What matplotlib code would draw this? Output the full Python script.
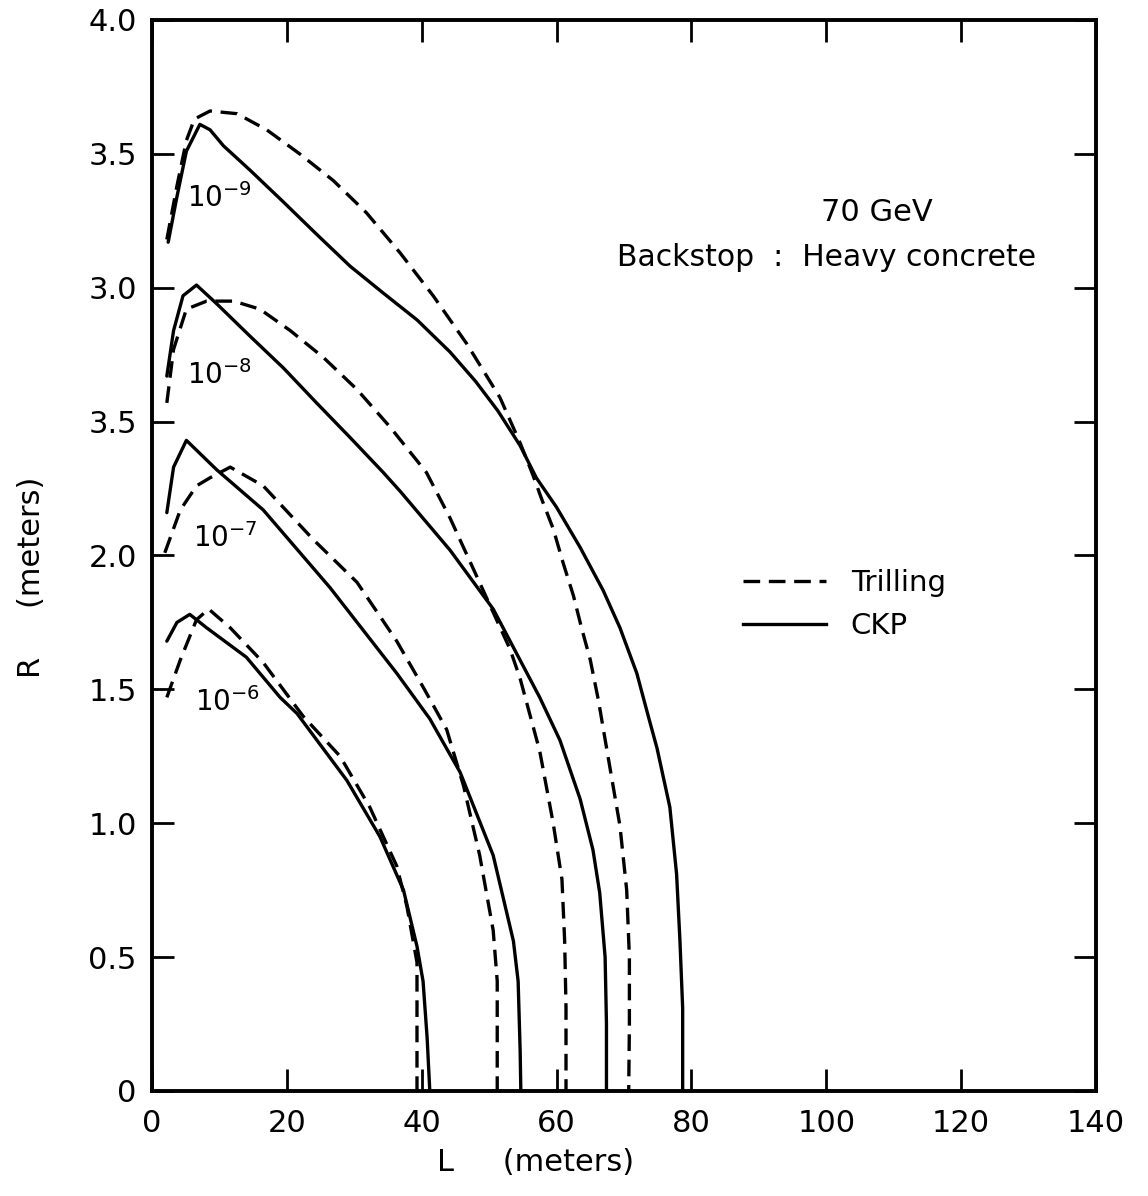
import matplotlib
matplotlib.use("Agg")
import matplotlib.pyplot as plt
from matplotlib.lines import Line2D

# ---- data (L in meters, R in meters) ----
ckp_9_L = [2.4, 3.7, 5.1, 7.1, 8.6, 10.6, 14.5, 19.5, 24.4, 29.4, 34.3, 39.3, 44.2, 48.0, 51.3, 54.6, 57.0, 60.0, 63.5, 66.9, 69.4, 71.9, 73.6, 74.9, 76.8, 77.8, 78.3, 78.7, 78.7]
ckp_9_R = [3.17, 3.34, 3.51, 3.61, 3.59, 3.53, 3.44, 3.32, 3.20, 3.08, 2.98, 2.88, 2.76, 2.65, 2.54, 2.41, 2.29, 2.18, 2.03, 1.87, 1.73, 1.56, 1.40, 1.28, 1.06, 0.81, 0.56, 0.31, 0.0]

tri_9_L = [2.2, 3.7, 5.1, 6.3, 8.6, 12.6, 17.0, 21.9, 26.9, 31.8, 36.8, 41.7, 46.7, 51.6, 54.6, 56.5, 57.8, 59.5, 61.0, 62.5, 63.7, 65.0, 66.2, 67.9, 69.4, 70.4, 70.8, 70.8, 70.7]
tri_9_R = [3.18, 3.38, 3.55, 3.63, 3.66, 3.65, 3.59, 3.50, 3.40, 3.28, 3.13, 2.97, 2.79, 2.59, 2.42, 2.30, 2.21, 2.10, 1.97, 1.85, 1.73, 1.61, 1.46, 1.21, 0.99, 0.75, 0.50, 0.25, 0.0]

ckp_8_L = [2.2, 3.2, 4.6, 6.6, 9.6, 14.5, 19.5, 24.4, 29.4, 34.3, 36.8, 44.2, 50.6, 57.5, 60.5, 63.5, 65.4, 66.4, 67.2, 67.4, 67.4]
ckp_8_R = [2.67, 2.84, 2.97, 3.01, 2.94, 2.82, 2.70, 2.57, 2.44, 2.31, 2.24, 2.02, 1.80, 1.47, 1.31, 1.09, 0.90, 0.74, 0.50, 0.25, 0.0]

tri_8_L = [2.2, 3.2, 5.1, 8.1, 12.1, 16.0, 20.5, 25.4, 30.4, 35.3, 40.7, 44.2, 48.2, 53.1, 54.6, 57.5, 59.5, 60.8, 61.2, 61.4, 61.4]
tri_8_R = [2.57, 2.77, 2.92, 2.95, 2.95, 2.92, 2.84, 2.74, 2.62, 2.48, 2.31, 2.14, 1.92, 1.65, 1.54, 1.27, 1.00, 0.79, 0.56, 0.31, 0.0]

ckp_7_L = [2.2, 3.2, 5.1, 9.6, 16.5, 26.4, 36.3, 41.2, 45.7, 50.6, 53.6, 54.3, 54.6, 54.7]
ckp_7_R = [2.16, 2.33, 2.43, 2.32, 2.17, 1.88, 1.56, 1.39, 1.19, 0.88, 0.56, 0.41, 0.15, 0.0]

tri_7_L = [1.9, 4.2, 6.6, 8.6, 11.6, 16.5, 23.9, 30.4, 36.3, 40.4, 43.7, 46.2, 48.6, 50.6, 51.2, 51.2, 51.2]
tri_7_R = [2.01, 2.17, 2.26, 2.29, 2.33, 2.26, 2.06, 1.90, 1.68, 1.50, 1.35, 1.14, 0.88, 0.60, 0.41, 0.20, 0.0]

ckp_6_L = [2.2, 3.7, 5.6, 8.1, 14.0, 19.0, 21.5, 28.9, 33.8, 37.3, 39.3, 40.2, 40.8, 41.2]
ckp_6_R = [1.68, 1.75, 1.78, 1.73, 1.62, 1.47, 1.41, 1.16, 0.95, 0.75, 0.54, 0.41, 0.20, 0.0]

tri_6_L = [2.2, 4.2, 6.6, 8.4, 11.6, 16.5, 22.4, 27.9, 32.3, 36.3, 37.8, 39.3, 39.3, 39.3]
tri_6_R = [1.47, 1.61, 1.76, 1.80, 1.73, 1.60, 1.40, 1.25, 1.06, 0.84, 0.69, 0.48, 0.25, 0.0]

curve_labels = ["10^{-9}", "10^{-8}", "10^{-7}", "10^{-6}"]
label_L = [5.2, 5.2, 6.1, 6.4]
label_R = [3.30, 2.64, 2.03, 1.42]

x_ticks = [0, 20, 40, 60, 80, 100, 120, 140]
x_ticklabels = ["0", "20", "40", "60", "80", "100", "120", "140"]
y_ticks = [0, 0.5, 1.0, 1.5, 2.0, 2.5, 3.0, 3.5, 4.0]
y_ticklabels = ["0", "0.5", "1.0", "1.5", "2.0", "3.5", "3.0", "3.5", "4.0"]

# ---- figure ----
plt.rcParams['font.family'] = ['DejaVu Sans']
plt.rcParams['mathtext.fontset'] = 'dejavusans'

fig = plt.figure(figsize=(11.48, 11.96), dpi=100)
ax = fig.add_axes([0.1324, 0.0878, 0.8223, 0.8955])

lw = 2.4
dash = (5.0, 2.6)
ckp = [(ckp_9_L, ckp_9_R), (ckp_8_L, ckp_8_R), (ckp_7_L, ckp_7_R), (ckp_6_L, ckp_6_R)]
tri = [(tri_9_L, tri_9_R), (tri_8_L, tri_8_R), (tri_7_L, tri_7_R), (tri_6_L, tri_6_R)]
for L, R in ckp:
    ax.plot(L, R, color='black', lw=lw, solid_joinstyle='round', solid_capstyle='round')
for L, R in tri:
    ax.plot(L, R, color='black', lw=lw, linestyle=(0, dash), dash_capstyle='butt')

for txt, lx, ry in zip(curve_labels, label_L, label_R):
    ax.text(lx, ry, r'$\mathregular{' + txt + '}$', fontsize=20, ha='left', va='baseline')

ax.text(107.5, 3.25, "70 GeV", fontsize=22, ha='center', va='baseline')
ax.text(100.0, 3.08, "Backstop  :  Heavy concrete", fontsize=21.5, ha='center', va='baseline')

handles = [Line2D([], [], color='black', lw=lw, linestyle=(0, dash)),
           Line2D([], [], color='black', lw=lw)]
ax.legend(handles, ["Trilling", "CKP"], loc='upper left', bbox_to_anchor=(0.626, 0.487),
          frameon=False, fontsize=21, handlelength=2.85, handletextpad=0.85,
          labelspacing=0.5, borderpad=0, borderaxespad=0)

ax.set_xlim(0, 140)
ax.set_ylim(0, 4.0)
ax.set_xticks(x_ticks)
ax.set_xticklabels(x_ticklabels)
ax.set_yticks(y_ticks)
ax.set_yticklabels(y_ticklabels)
ax.tick_params(axis='both', which='major', direction='in', length=16, width=2,
               top=True, right=True, labelsize=22)
ax.tick_params(axis='x', pad=13)
ax.tick_params(axis='y', pad=11)
for s in ax.spines.values():
    s.set_linewidth(2.8)

ax.set_xlabel("L     (meters)", fontsize=22)
ax.xaxis.set_label_coords(0.406, -0.053)
ax.set_ylabel("R     (meters)", fontsize=22)
ax.yaxis.set_label_coords(-0.112, 0.48)

fig.savefig("out.png", dpi=100)
